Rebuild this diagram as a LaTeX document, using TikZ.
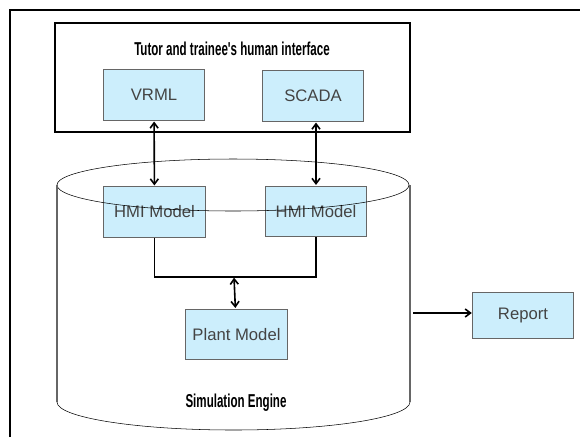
\documentclass[tikz,border=0pt]{standalone}
\usepackage{fontspec}
\setmainfont{Liberation Sans}[Ligatures=TeXOff]
\usetikzlibrary{arrows.meta,calc,positioning}
\definecolor{boxfill}{HTML}{CCEEFC}
\definecolor{boxline}{HTML}{666666}
\definecolor{boxtext}{HTML}{444444}
\tikzset{
sim/.style={x=0.75pt,y=-0.75pt,>={Straight Barb[length=4pt,width=6pt]},
    font=\fontsize{12.5}{14}\selectfont},
block/.style={rectangle,draw=boxline,fill=boxfill,text=boxtext,thick,
    minimum width=76pt,minimum height=38pt,inner sep=0pt},
link/.style={<->,very thick,shorten >=0.5pt,shorten <=0.5pt},
heading/.style={font=\fontsize{14}{16}\selectfont\bfseries,text=black},
}
\newcommand{\narrow}[1]{\scalebox{0.62}[1]{#1}}

\begin{document}
\begin{tikzpicture}[sim]
    \useasboundingbox (0,0) rectangle (580,437);

    \draw[thick] (10,437) -- (10,10) -- (580,10);
    \draw[thick] (55,23) rectangle (410,132);
    \node[heading] (title) at (232,49) {\narrow{Tutor and trainee's human interface}};

    \node[block] (vrml) at (154,95) {VRML};
    \node[block] (scada) at (313,96) {SCADA};
    \node[block] (hmi1) at (154.5,212) {HMI Model};
    \node[block] (hmi2) at (316,211.5) {HMI Model};
    \node[block] (plant) at (236.5,334.5) {Plant Model};
    \node[block,minimum height=34pt] (report) at (523,315.5) {Report};
    \node[heading] (engine) at (236,403) {\narrow{Simulation Engine}};

    % cylinder
    \draw[thin] (233,185) ellipse (176 and 26);
    \draw[boxline,thick] (57,185) -- (57,402);
    \draw[boxline,thick] (410,185) -- (410,402);
    \draw[thin] (57,402) arc[start angle=180,end angle=360,x radius=176.5,y radius=-28];

    \coordinate (bus) at (234,277);
    \coordinate (out) at (413,313);

    \path[link]
        (vrml) edge (hmi1)
        (scada.south -| hmi2) edge (hmi2)
        (bus) edge (plant);
    \draw[very thick] (hmi1) -- (hmi1 |- bus) -| (hmi2);
    \draw[->,very thick] (out) -- (out -| report.west);
\end{tikzpicture}
\end{document}
